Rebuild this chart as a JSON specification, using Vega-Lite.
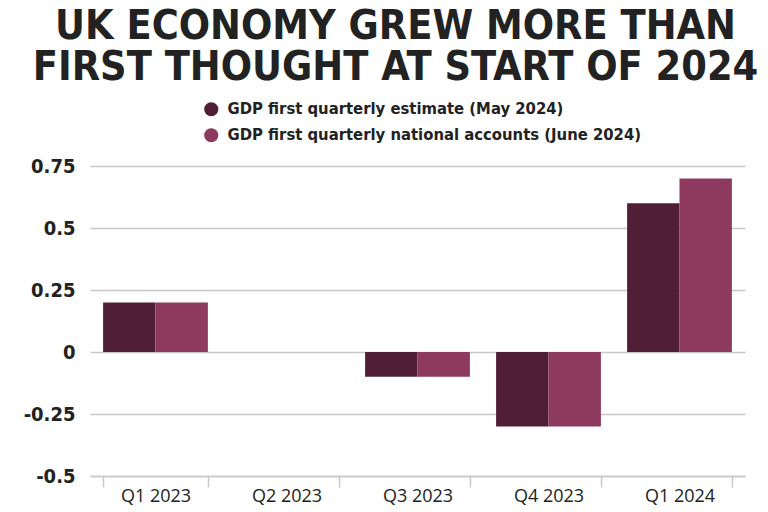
{
  "$schema": "https://vega.github.io/schema/vega-lite/v6.json",
  "width": 655,
  "height": 310,
  "autosize": {"type": "none"},
  "padding": {"left": 90, "top": 166, "right": 23, "bottom": 36},
  "background": "white",
  "title": {
    "text": ["UK ECONOMY GREW MORE THAN", "FIRST THOUGHT AT START OF 2024"],
    "font": "DejaVu Sans Condensed",
    "fontWeight": "bold",
    "fontSize": 41,
    "lineHeight": 41,
    "color": "#222222",
    "anchor": "middle",
    "frame": "group",
    "dx": -22,
    "offset": 12
  },
  "data": {
    "values": [
      {"quarter": "Q1 2023", "series": "GDP first quarterly estimate (May 2024)", "value": 0.2},
      {"quarter": "Q1 2023", "series": "GDP first quarterly national accounts (June 2024)", "value": 0.2},
      {"quarter": "Q2 2023", "series": "GDP first quarterly estimate (May 2024)", "value": 0},
      {"quarter": "Q2 2023", "series": "GDP first quarterly national accounts (June 2024)", "value": 0},
      {"quarter": "Q3 2023", "series": "GDP first quarterly estimate (May 2024)", "value": -0.1},
      {"quarter": "Q3 2023", "series": "GDP first quarterly national accounts (June 2024)", "value": -0.1},
      {"quarter": "Q4 2023", "series": "GDP first quarterly estimate (May 2024)", "value": -0.3},
      {"quarter": "Q4 2023", "series": "GDP first quarterly national accounts (June 2024)", "value": -0.3},
      {"quarter": "Q1 2024", "series": "GDP first quarterly estimate (May 2024)", "value": 0.6},
      {"quarter": "Q1 2024", "series": "GDP first quarterly national accounts (June 2024)", "value": 0.7}
    ]
  },
  "mark": {"type": "bar"},
  "encoding": {
    "x": {
      "field": "quarter",
      "type": "nominal",
      "sort": ["Q1 2023", "Q2 2023", "Q3 2023", "Q4 2023", "Q1 2024"],
      "scale": {"paddingInner": 0.2, "paddingOuter": 0.1},
      "axis": {
        "title": null,
        "labelAngle": 0,
        "labelFont": "Open Sans",
        "labelFontSize": 18,
        "labelColor": "#222222",
        "labelPadding": 0,
        "domainColor": "#c8c8c8",
        "domainWidth": 1.5,
        "tickColor": "#c8c8c8",
        "tickWidth": 1.5,
        "tickSize": 11,
        "tickBand": "extent",
        "grid": false
      }
    },
    "xOffset": {
      "field": "series",
      "type": "nominal",
      "sort": ["GDP first quarterly estimate (May 2024)", "GDP first quarterly national accounts (June 2024)"]
    },
    "y": {
      "field": "value",
      "type": "quantitative",
      "scale": {"domain": [-0.5, 0.75], "nice": false, "zero": false},
      "axis": {
        "title": null,
        "values": [-0.5, -0.25, 0, 0.25, 0.5, 0.75],
        "labelExpr": "toString(datum.value)",
        "labelFont": "DejaVu Sans Condensed",
        "labelFontWeight": "bold",
        "labelFontSize": 20,
        "labelColor": "#222222",
        "labelPadding": 15,
        "ticks": false,
        "domain": false,
        "grid": true,
        "gridColor": "#c8c8c8",
        "gridWidth": 1.5
      }
    },
    "color": {
      "field": "series",
      "type": "nominal",
      "scale": {
        "domain": ["GDP first quarterly estimate (May 2024)", "GDP first quarterly national accounts (June 2024)"],
        "range": ["#501f36", "#8e3a5e"]
      },
      "legend": {
        "title": null,
        "orient": "none",
        "legendX": 113,
        "legendY": -65,
        "symbolType": "circle",
        "symbolSize": 200,
        "symbolStrokeWidth": 0,
        "symbolOpacity": 1,
        "labelFont": "DejaVu Sans Condensed",
        "labelFontWeight": "bold",
        "labelFontSize": 16.5,
        "labelColor": "#222222",
        "labelOffset": 8,
        "labelLimit": 600,
        "rowPadding": 9
      }
    }
  },
  "config": {
    "view": {"stroke": null}
  }
}
